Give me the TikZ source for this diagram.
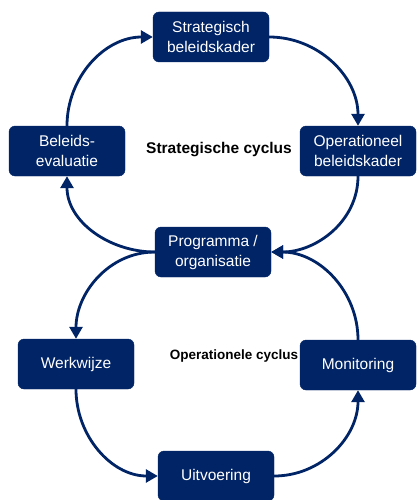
\documentclass[tikz,border=0pt]{standalone}
\usepackage{fontspec}
\setmainfont{Liberation Sans}
\usetikzlibrary{arrows.meta}
\definecolor{navy}{RGB}{0,36,102}

\begin{document}
\begin{tikzpicture}[x=1pt, y=-1pt,
    box/.style={draw=navy, fill=navy, rounded corners=6pt, text=white,
      minimum width=116pt, minimum height=50pt, inner sep=0pt, align=center,
      font=\fontsize{15.5}{20}\selectfont},
    lbl/.style={font=\fontsize{15.5}{18}\selectfont\bfseries},
    flow/.style={draw=navy, line width=2.8pt, -{Triangle[length=12pt,width=13pt]}}]
    \useasboundingbox (0,0) rectangle (418,500);
    \node[box] (sk) at (211, 37) {Strategisch\\beleidskader};
    \node[box] (be) at (67, 151) {Beleids-\\evaluatie};
    \node[box] (ob) at (358, 151) {Operationeel\\beleidskader};
    \node[box] (po) at (213, 252) {Programma /\\organisatie};
    \node[box] (ww) at (76, 364) {Werkwijze};
    \node[box] (mo) at (358, 365) {Monitoring};
    \node[box] (ui) at (216, 476) {Uitvoering};
    \node[lbl] (sc) at (219, 150) {Strategische cyclus};
    \node[lbl, font=\fontsize{13.5}{16}\selectfont\bfseries] (oc) at (234, 356) {Operationele cyclus};
    \draw [flow] (be.north) to[out=90, in=180] (sk.west);
    \draw [flow] (sk.east) to[out=0, in=90] (ob.north);
    \draw [flow] (ob.south) to[out=-90, in=0] (po.east);
    \draw [flow] (po.west) to[out=180, in=-90] (be.south);
    \draw [flow] (po.west) to[out=180, in=90] (ww.north);
    \draw [flow] (ww.south) to[out=-90, in=180] (ui.west);
    \draw [flow] (ui.east) to[out=0, in=-90] (mo.south);
    \draw [flow] (mo.north) to[out=90, in=0] (po.east);
  \end{tikzpicture}
\end{document}
